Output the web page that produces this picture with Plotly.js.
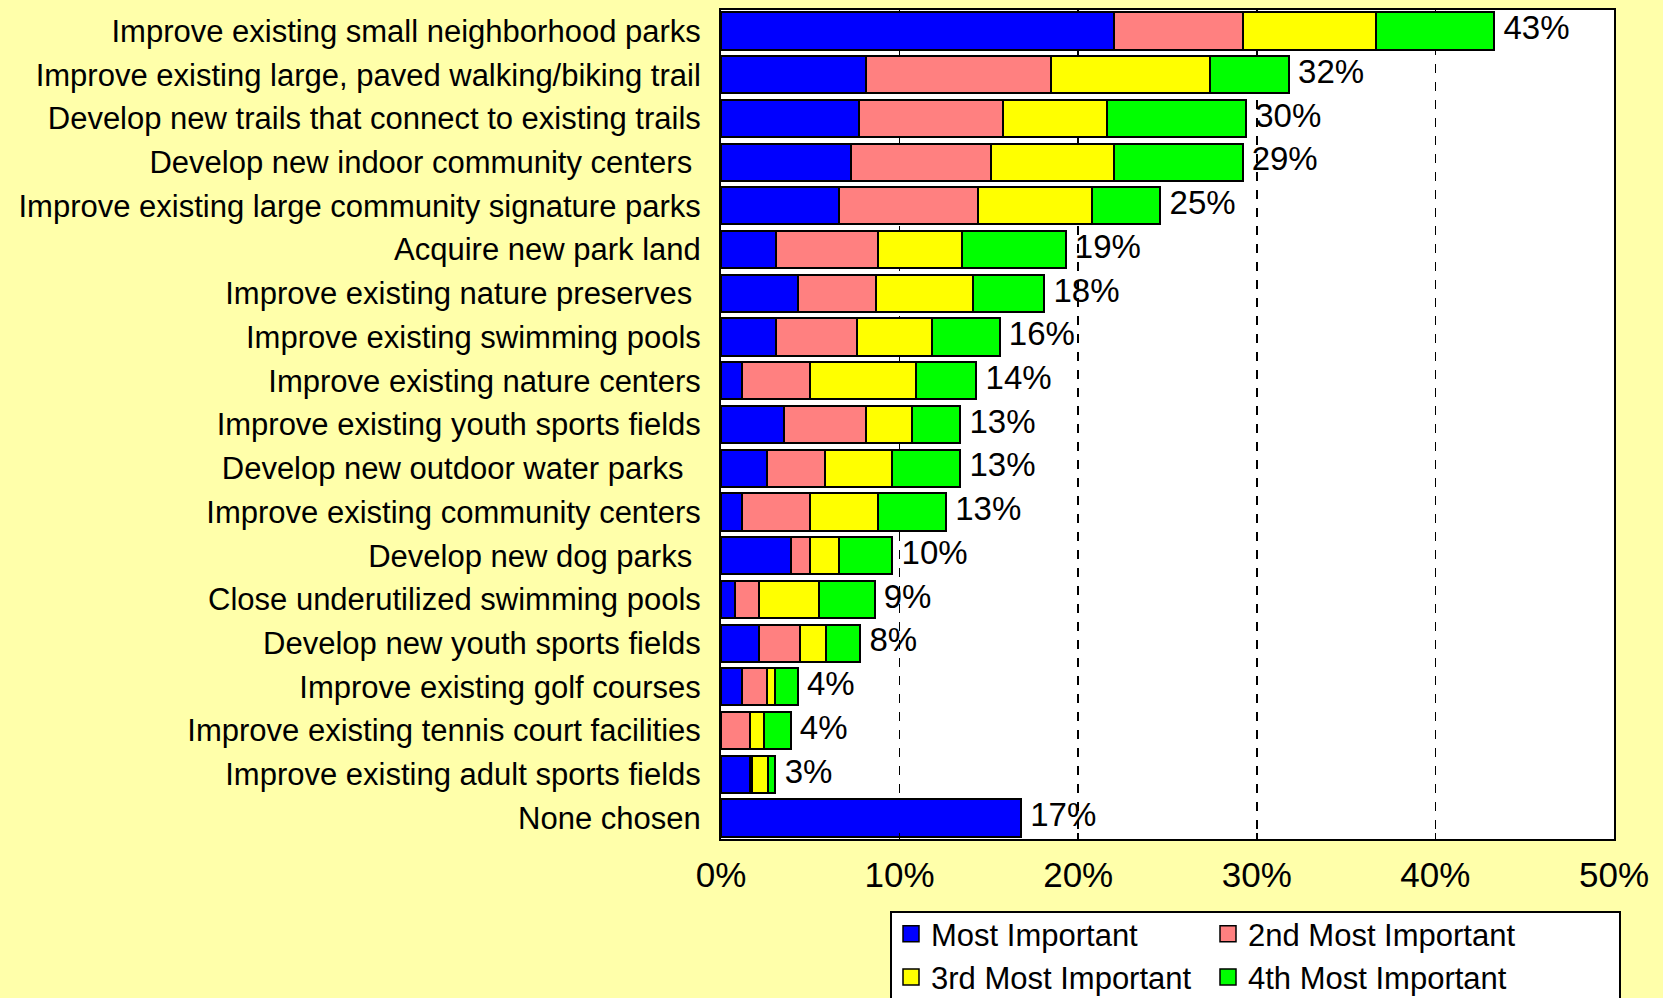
<!DOCTYPE html>
<html>
<head>
<meta charset="utf-8">
<script src="https://cdn.plot.ly/plotly-3.0.1.min.js"></script>
<style>
  html, body { margin: 0; padding: 0; background: #ffffaa; }
  #chart { width: 1663px; height: 998px; }
</style>
</head>
<body>
<div id="chart"></div>
<script>
const NB = "\u00A0";
const categories = [
  "Improve existing small neighborhood parks",
  "Improve existing large, paved walking/biking trail",
  "Develop new trails that connect to existing trails",
  "Develop new indoor community centers" + NB,
  "Improve existing large community signature parks",
  "Acquire new park land",
  "Improve existing nature preserves" + NB,
  "Improve existing swimming pools",
  "Improve existing nature centers",
  "Improve existing youth sports fields",
  "Develop new outdoor water parks" + NB + NB,
  "Improve existing community centers",
  "Develop new dog parks" + NB,
  "Close underutilized swimming pools",
  "Develop new youth sports fields",
  "Improve existing golf courses",
  "Improve existing tennis court facilities",
  "Improve existing adult sports fields",
  "None chosen"
];
const mostImportant   = [22.0, 8.1, 7.7, 7.3, 6.6, 3.1, 4.3, 3.1, 1.2, 3.5, 2.6, 1.2, 3.9, 0.8, 2.1, 1.2, 0.0, 1.6, 16.8];
const secondImportant = [7.2, 10.4, 8.1, 7.8, 7.8, 5.7, 4.4, 4.5, 3.8, 4.6, 3.2, 3.8, 1.1, 1.3, 2.3, 1.4, 1.6, 0.15, 0];
const thirdImportant  = [7.5, 8.9, 5.8, 6.9, 6.4, 4.7, 5.4, 4.2, 5.9, 2.6, 3.8, 3.8, 1.6, 3.4, 1.5, 0.4, 0.8, 0.9, 0];
const fourthImportant = [6.6, 4.4, 7.8, 7.2, 3.8, 5.8, 4.0, 3.8, 3.4, 2.7, 3.8, 3.8, 3.0, 3.1, 1.9, 1.3, 1.5, 0.4, 0];
const totalLabels = ["43%","32%","30%","29%","25%","19%","18%","16%","14%","13%","13%","13%","10%","9%","8%","4%","4%","3%","17%"];
const seriesNames = ["Most Important", "2nd Most Important", "3rd Most Important", "4th Most Important"];
const tickVals = [0, 10, 20, 30, 40, 50];
const tickText = ["0%", "10%", "20%", "30%", "40%", "50%"];

const FONT = '"Liberation Sans", Arial, sans-serif';
const colors = ["#0000ff", "#ff8080", "#ffff00", "#00ff00"];
const seriesData = [mostImportant, secondImportant, thirdImportant, fourthImportant];

const traces = seriesData.map((vals, i) => ({
  type: "bar",
  orientation: "h",
  name: seriesNames[i],
  legendgroup: "s" + i,
  showlegend: false,
  x: vals,
  y: categories,
  marker: { color: colors[i], line: { color: "#000000", width: 2 } },
  hoverinfo: "skip"
}));

// legend-only entries (larger square swatches with black outline)
seriesNames.forEach((nm, i) => {
  traces.push({
    type: "scatter",
    mode: "markers",
    name: nm,
    legendgroup: "s" + i,
    x: [null],
    y: [null],
    marker: { symbol: "square", size: 16, color: colors[i], line: { color: "#000000", width: 1.5 } },
    hoverinfo: "skip"
  });
});

const totals = categories.map((c, k) => seriesData.reduce((s, arr) => s + arr[k], 0));
traces.push({
  type: "scatter",
  mode: "text",
  x: totals,
  y: categories,
  text: totalLabels.map(t => NB + t),
  textposition: "middle right",
  textfont: { family: FONT, size: 33, color: "#000000" },
  showlegend: false,
  cliponaxis: false,
  hoverinfo: "skip"
});

const layout = {
  width: 1663,
  height: 998,
  paper_bgcolor: "#ffffaa",
  plot_bgcolor: "#ffffff",
  barmode: "stack",
  bargap: 0.15,
  margin: { l: 721, r: 49, t: 10, b: 159, autoexpand: false },
  font: { family: FONT, color: "#000000" },
  xaxis: {
    range: [0, 50],
    tickvals: tickVals,
    ticktext: tickText,
    tickfont: { family: FONT, size: 35, color: "#000000" },
    showgrid: true,
    gridcolor: "#000000",
    gridwidth: 1.6,
    griddash: "dash",
    zeroline: false,
    showline: true,
    linecolor: "#000000",
    linewidth: 2,
    mirror: true,
    ticks: "inside",
    ticklen: 6,
    tickcolor: "#000000",
    tickwidth: 1.5,
    ticklabelstandoff: 4,
    fixedrange: true
  },
  yaxis: {
    type: "category",
    range: [18.48, -0.48],
    tickfont: { family: FONT, size: 31, color: "#000000" },
    showgrid: false,
    zeroline: false,
    showline: true,
    linecolor: "#000000",
    linewidth: 2,
    mirror: true,
    ticks: "",
    ticklabelstandoff: 12,
    fixedrange: true
  },
  legend: {
    orientation: "h",
    x: (891 - 721) / 893,
    xanchor: "left",
    y: -0.082,
    yanchor: "top",
    bgcolor: "rgba(0,0,0,0)",
    borderwidth: 0,
    entrywidth: 272,
    entrywidthmode: "pixels",
    traceorder: "normal",
    itemsizing: "trace",
    font: { family: FONT, size: 31, color: "#000000" }
  },
  shapes: [{
    type: "rect",
    xref: "paper", yref: "paper",
    x0: (891 - 721) / 893, x1: (1620 - 721) / 893,
    y0: -0.088, y1: -0.25,
    fillcolor: "#ffffff",
    line: { color: "#000000", width: 2 },
    layer: "below"
  }],
  showlegend: true,
  hovermode: false
};

Plotly.newPlot("chart", traces, layout, { staticPlot: true, displayModeBar: false });
</script>
</body>
</html>
